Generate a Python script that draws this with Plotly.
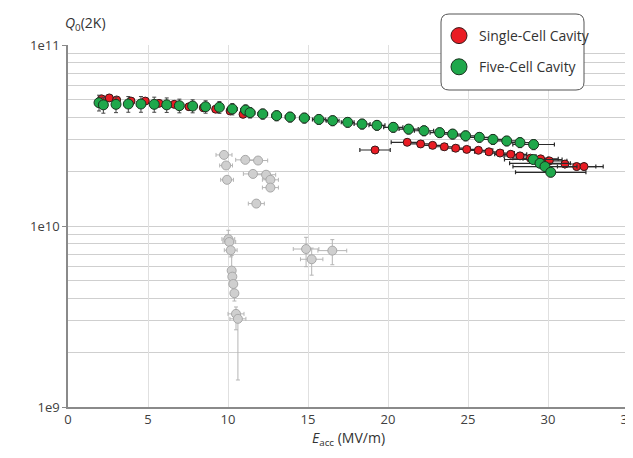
import plotly.graph_objects as go

# ---------------- data ----------------
# Single-Cell Cavity
single_x = [2.1, 2.58, 3.04, 3.94, 4.83, 5.69, 6.64, 7.56, 8.46, 9.23, 10.13, 10.94,
            19.19, 21.2, 22.04, 22.79, 23.52, 24.23, 24.92, 25.65, 26.31, 27.0, 27.67,
            28.25, 28.9, 29.54, 30.08, 31.06, 31.79, 32.25]
single_q = [5.04e10, 5.1e10, 4.97e10, 4.9e10, 4.9e10, 4.76e10, 4.7e10, 4.56e10, 4.5e10,
            4.42e10, 4.32e10, 4.14e10,
            2.63e10, 2.9e10, 2.84e10, 2.79e10, 2.74e10, 2.69e10, 2.65e10, 2.62e10, 2.57e10,
            2.53e10, 2.49e10, 2.44e10, 2.37e10, 2.35e10, 2.29e10, 2.2e10, 2.13e10, 2.13e10]
single_xerr = [0.2, 0.2, 0.2, 0.2, 0.2, 0.2, 0.2, 0.2, 0.2, 0.2, 0.2, 0.2,
               0.95, 1.0, 0.9, 0.9, 0.9, 0.9, 0.9, 0.9, 0.9, 0.9, 1.0,
               1.0, 1.1, 1.1, 1.1, 1.2, 1.2, 1.2]
single_qerr = [2.0e9, 2.0e9, 2.0e9, 2.0e9, 2.0e9, 1.9e9, 1.9e9, 1.8e9, 1.8e9,
               1.8e9, 1.7e9, 1.7e9,
               1.0e9, 1.1e9, 1.1e9, 1.1e9, 1.1e9, 1.1e9, 1.0e9, 1.0e9, 1.0e9,
               1.0e9, 1.0e9, 1.0e9, 0.9e9, 0.9e9, 0.9e9, 0.9e9, 0.9e9, 0.9e9]

# Five-Cell Cavity
five_x = [1.94, 2.21, 3.0, 3.77, 4.56, 5.39, 6.17, 6.96, 7.79, 8.6, 9.46, 10.27,
          11.1, 11.38, 12.17, 13.04, 13.88, 14.77, 15.68, 16.54, 17.48, 18.38, 19.31,
          20.33, 21.29, 22.25, 23.23, 24.04, 24.85, 25.71, 26.56, 27.42, 28.25, 29.1,
          29.08, 29.5, 29.81, 30.17]
five_q = [4.8e10, 4.67e10, 4.7e10, 4.72e10, 4.72e10, 4.7e10, 4.67e10, 4.62e10, 4.6e10,
          4.56e10, 4.53e10, 4.43e10,
          4.37e10, 4.23e10, 4.16e10, 4.07e10, 4.0e10, 3.95e10, 3.88e10, 3.82e10, 3.74e10,
          3.66e10, 3.6e10, 3.51e10, 3.43e10, 3.36e10, 3.28e10, 3.22e10, 3.15e10, 3.09e10,
          3.01e10, 2.95e10, 2.89e10, 2.82e10,
          2.33e10, 2.22e10, 2.13e10, 1.98e10]
five_xerr = [0.15, 0.15, 0.15, 0.15, 0.15, 0.15, 0.15, 0.15, 0.15, 0.2, 0.2, 0.3,
             0.3, 0.3, 0.3, 0.3, 0.3, 0.3, 0.4, 0.4, 0.4, 0.5, 0.5,
             0.6, 0.6, 0.6, 0.6, 0.7, 0.7, 0.8, 0.8, 0.9, 1.0, 1.3,
             1.8, 1.9, 2.0, 2.2]
five_qerr = [4.8e9, 4.7e9, 4.7e9, 4.7e9, 4.7e9, 4.5e9, 4.3e9, 4.0e9, 3.8e9,
             3.6e9, 3.4e9, 3.2e9,
             3.0e9, 2.8e9, 2.7e9, 2.6e9, 2.5e9, 2.5e9, 2.4e9, 2.4e9, 2.3e9,
             2.3e9, 2.2e9, 2.2e9, 2.1e9, 2.1e9, 2.0e9, 2.0e9, 2.0e9, 1.9e9,
             1.9e9, 1.8e9, 1.8e9, 1.8e9,
             1.2e9, 1.1e9, 1.1e9, 1.1e9]

# Other (grey) measurements, no legend entry
other_x = [9.75, 9.88, 9.94, 11.08, 11.88, 11.56, 12.38, 12.65, 12.65, 11.77,
           10.02, 10.08, 10.17, 14.88, 16.52, 15.23, 10.23, 10.27, 10.33, 10.4,
           10.5, 10.62]
other_q = [2.47e10, 2.16e10, 1.8e10, 2.32e10, 2.3e10, 1.94e10, 1.92e10, 1.8e10, 1.63e10,
           1.33e10, 8.47e9, 8.16e9, 7.35e9, 7.46e9, 7.31e9, 6.55e9, 5.67e9, 5.25e9,
           4.78e9, 4.25e9, 3.27e9, 3.07e9]
other_xerr = [0.5, 0.4, 0.4, 0.6, 0.6, 0.6, 0.6, 0.5, 0.5, 0.5,
              0.4, 0.4, 0.4, 0.8, 0.9, 0.7, 0.2, 0.2, 0.2, 0.2,
              0.5, 0.5]
other_qerr_up = [0.8e9, 0.6e9, 0.6e9, 0.8e9, 0.8e9, 0.9e9, 0.9e9, 0.7e9, 0.7e9,
                 0.6e9, 1.0e9, 0.6e9, 0.6e9, 1.2e9, 1.1e9, 1.0e9, 1.2e9, 0.4e9,
                 0.4e9, 0.4e9, 0.3e9, 0.3e9]
other_qerr_down = [0.8e9, 0.6e9, 0.6e9, 0.8e9, 0.8e9, 0.9e9, 0.9e9, 0.7e9, 0.7e9,
                   0.6e9, 0.6e9, 0.6e9, 0.6e9, 1.5e9, 1.2e9, 1.2e9, 0.6e9, 0.4e9,
                   0.4e9, 0.4e9, 0.6e9, 1.66e9]

y_tick_vals = [1e9, 1e10, 1e11]
y_tick_text = ["1e9", "1e10", "1e11"]
x_tick_vals = [0, 5, 10, 15, 20, 25, 30, 35]

legend_names = ["Single-Cell Cavity", "Five-Cell Cavity"]

# ---------------- figure ----------------
FONT = "Open Sans, Noto Sans, sans-serif"
fig = go.Figure()

fig.add_trace(go.Scatter(
    x=other_x, y=other_q, mode="markers", showlegend=False,
    marker=dict(size=9, color="#cfcfcf", line=dict(color="#a8a8a8", width=1)),
    error_x=dict(type="data", array=other_xerr, color="#b5b5b5", thickness=1, width=2),
    error_y=dict(type="data", symmetric=False, array=other_qerr_up,
                 arrayminus=other_qerr_down, color="#b5b5b5", thickness=1, width=2),
))

fig.add_trace(go.Scatter(
    x=single_x, y=single_q, mode="markers", showlegend=False,
    marker=dict(size=8, color="#ea1c24", line=dict(color="#3a1a1a", width=1)),
    error_x=dict(type="data", array=single_xerr, color="#2a2a2a", thickness=1.2, width=2),
    error_y=dict(type="data", array=single_qerr, color="#2a2a2a", thickness=1, width=2),
))

fig.add_trace(go.Scatter(
    x=five_x, y=five_q, mode="markers", showlegend=False,
    marker=dict(size=10, color="#1fa84b", line=dict(color="#1a331f", width=1)),
    error_x=dict(type="data", array=five_xerr, color="#2a2a2a", thickness=1.2, width=2),
    error_y=dict(type="data", array=five_qerr, color="#444444", thickness=1, width=2),
))

# legend-only traces (bigger symbols)
fig.add_trace(go.Scatter(
    x=[None], y=[None], mode="markers", name=legend_names[0], legendgroup="a",
    marker=dict(size=16, color="#ea1c24", line=dict(color="#3a1a1a", width=1)),
))
fig.add_trace(go.Scatter(
    x=[None], y=[None], mode="markers", name=legend_names[1], legendgroup="b",
    marker=dict(size=16, color="#1fa84b", line=dict(color="#1a331f", width=1)),
))

# page body has an 8px default margin: work in screen pixels minus offset
OFF = 8
W, H = 633, 458
L = 68 - OFF
T = 45 - OFF
R = W - (628 - OFF)
B = H - (407 - OFF)
pw, ph = W - L - R, H - T - B

def px_x(p):
    return (p - OFF - L) / pw

def px_y(p):
    return (H - B - (p - OFF)) / ph

# rounded legend frame
x0, x1 = px_x(441), px_x(584)
y0, y1 = px_y(90), px_y(14)
rx, ry = 8 / pw, 8 / ph
path = (f"M {x0+rx},{y1} L {x1-rx},{y1} Q {x1},{y1} {x1},{y1-ry} "
        f"L {x1},{y0+ry} Q {x1},{y0} {x1-rx},{y0} L {x0+rx},{y0} "
        f"Q {x0},{y0} {x0},{y0+ry} L {x0},{y1-ry} Q {x0},{y1} {x0+rx},{y1} Z")
fig.add_shape(type="path", xref="paper", yref="paper", path=path,
              line=dict(color="#555555", width=1), fillcolor="white", layer="above")

fig.update_layout(
    width=W, height=H,
    margin=dict(l=L, r=R, t=T, b=B, pad=0, autoexpand=False),
    paper_bgcolor="white", plot_bgcolor="white",
    font=dict(family=FONT, size=13, color="#333333"),
    legend=dict(x=px_x(439), y=px_y(20), xanchor="left", yanchor="top",
                bgcolor="rgba(0,0,0,0)", borderwidth=0,
                font=dict(family=FONT, size=14, color="#333333"),
                tracegroupgap=10, traceorder="grouped", itemsizing="trace"),
    xaxis=dict(range=[0, 35], tickvals=x_tick_vals, showgrid=True,
               gridcolor="#e0e0e0", gridwidth=1, zeroline=False,
               showline=True, linecolor="#8a8a8a", linewidth=1.5,
               ticks="", tickfont=dict(size=13, color="#404040"), automargin=False),
    yaxis=dict(type="log", range=[9, 11], tickvals=y_tick_vals, ticktext=y_tick_text,
               showgrid=False, zeroline=False,
               showline=True, linecolor="#8a8a8a", linewidth=1.5,
               ticks="outside", ticklen=4, tickcolor="#8a8a8a",
               tickfont=dict(size=13, color="#404040"), automargin=False,
               minor=dict(dtick="D1", showgrid=True, gridcolor="#cfcfcf",
                          gridwidth=1, ticks="")),
    annotations=[
        dict(text="<i>Q</i><sub>0</sub>(2K)", xref="paper", yref="paper",
             x=px_x(63), y=px_y(23), xanchor="left", yanchor="middle",
             showarrow=False, font=dict(family=FONT, size=14, color="#333333")),
        dict(text="<i>E</i><sub>acc</sub> (MV/m)", xref="paper", yref="paper",
             x=px_x(348), y=px_y(438), xanchor="center", yanchor="middle",
             showarrow=False, font=dict(family=FONT, size=14, color="#333333")),
    ],
)

fig.write_html("out.html")
